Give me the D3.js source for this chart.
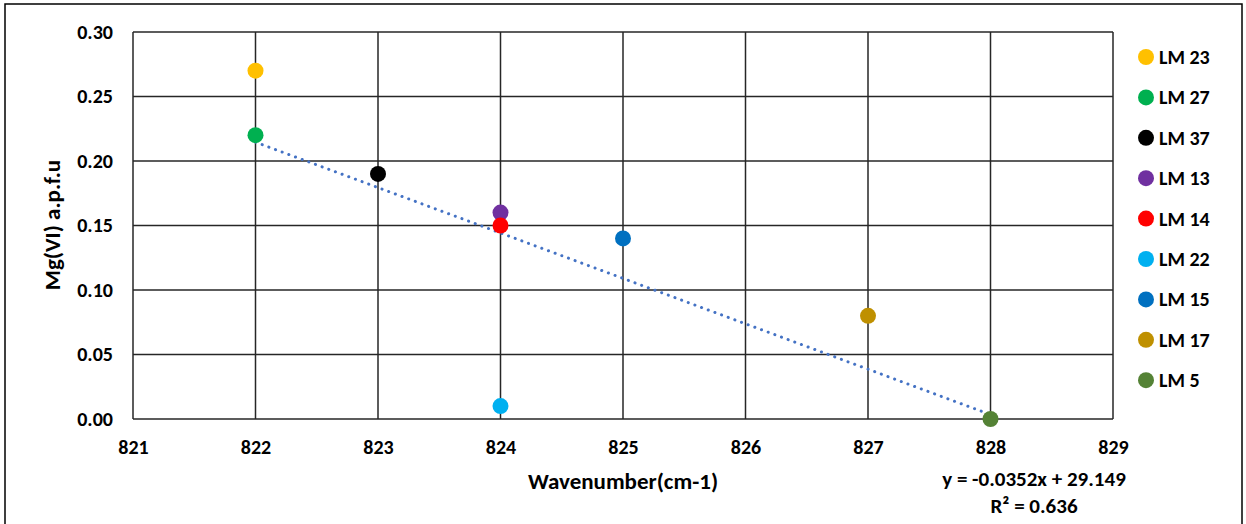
<!DOCTYPE html>
<html>
<head>
<meta charset="utf-8">
<script src="https://cdn.jsdelivr.net/npm/d3@7"></script>
<style>
  body { margin: 0; background: #fff; }
  svg text { font-family: Calibri, Carlito, "Open Sans", "Liberation Sans", sans-serif; font-weight: bold; fill: #000; }
</style>
</head>
<body>
<div id="chart"></div>
<script>
// data
const samples = ["LM 23", "LM 27", "LM 37", "LM 13", "LM 14", "LM 22", "LM 15", "LM 17", "LM 5"];
const wavenumber = [822, 822, 823, 824, 824, 824, 825, 827, 828];
const mgVI = [0.27, 0.22, 0.19, 0.16, 0.15, 0.01, 0.14, 0.08, 0.00];
const colors = ["#FFC000", "#00B050", "#000000", "#7030A0", "#FF0000", "#00B0F0", "#0070C0", "#BF9000", "#548235"];
const xTicks = [821, 822, 823, 824, 825, 826, 827, 828, 829];
const yTicks = [0, 0.05, 0.10, 0.15, 0.20, 0.25, 0.30];
const slope = -0.0352, intercept = 29.149;

const W = 1246, H = 524;
const svg = d3.select("#chart").append("svg").attr("width", W).attr("height", H);

// outer frame
svg.append("rect").attr("x", 5).attr("y", 4).attr("width", 1237).attr("height", 530)
  .attr("fill", "none").attr("stroke", "#000").attr("stroke-width", 1.5);

const x = d3.scaleLinear().domain([821, 829]).range([133, 1113]);
const y = d3.scaleLinear().domain([0, 0.30]).range([419, 32]);

// grid
const grid = svg.append("g");
grid.selectAll("line.v").data(xTicks).join("line")
  .attr("x1", d => x(d)).attr("x2", d => x(d)).attr("y1", y(0.30)).attr("y2", y(0))
  .attr("stroke", "#262626").attr("stroke-width", 1.5);
grid.selectAll("line.h").data(yTicks).join("line")
  .attr("x1", x(821)).attr("x2", x(829)).attr("y1", d => y(d)).attr("y2", d => y(d))
  .attr("stroke", "#262626").attr("stroke-width", 1.5);

// axes labels via d3 axes, lines hidden
const xAxis = svg.append("g").attr("transform", `translate(0,${y(0)})`)
  .call(d3.axisBottom(x).tickValues(xTicks).tickFormat(d3.format("d")).tickSize(0).tickPadding(21));
const yAxis = svg.append("g").attr("transform", `translate(${x(821)},0)`)
  .call(d3.axisLeft(y).tickValues(yTicks).tickFormat(d3.format(".2f")).tickSize(0).tickPadding(20));
[xAxis, yAxis].forEach(a => {
  a.select(".domain").remove();
  a.selectAll("text").attr("font-size", 20).attr("fill", "#000")
    .style("font-family", 'Calibri, Carlito, "Open Sans", "Liberation Sans", sans-serif').style("font-weight", "bold");
});

// titles
svg.append("text").attr("x", 623).attr("y", 489).attr("text-anchor", "middle").attr("font-size", 23)
  .text("Wavenumber(cm-1)");
svg.append("text").attr("transform", "translate(60,225) rotate(-90)").attr("text-anchor", "middle").attr("font-size", 23)
  .text("Mg(VI) a.p.f.u");

// trendline
svg.append("line")
  .attr("x1", x(822)).attr("y1", y(slope * 822 + intercept))
  .attr("x2", x(828)).attr("y2", y(slope * 828 + intercept))
  .attr("stroke", "#4472C4").attr("stroke-width", 3)
  .attr("stroke-dasharray", "0.1 7").attr("stroke-linecap", "round");

// points
const pts = d3.range(samples.length);
svg.append("g").selectAll("circle").data(pts).join("circle")
  .attr("cx", i => x(wavenumber[i])).attr("cy", i => y(mgVI[i])).attr("r", 8)
  .attr("fill", i => colors[i]);

// legend
const leg = svg.append("g");
leg.selectAll("circle").data(pts).join("circle")
  .attr("cx", 1146).attr("cy", i => 57 + i * 40.4).attr("r", 8).attr("fill", i => colors[i]);
leg.selectAll("text").data(pts).join("text")
  .attr("x", 1159).attr("y", i => 57 + i * 40.4).attr("dy", "0.35em").attr("font-size", 20)
  .text(i => samples[i]);

// equation
svg.append("text").attr("x", 1034).attr("y", 486).attr("text-anchor", "middle").attr("font-size", 21)
  .text("y = -0.0352x + 29.149");
svg.append("text").attr("x", 1034).attr("y", 513).attr("text-anchor", "middle").attr("font-size", 21)
  .text("R² = 0.636");
</script>
</body>
</html>
